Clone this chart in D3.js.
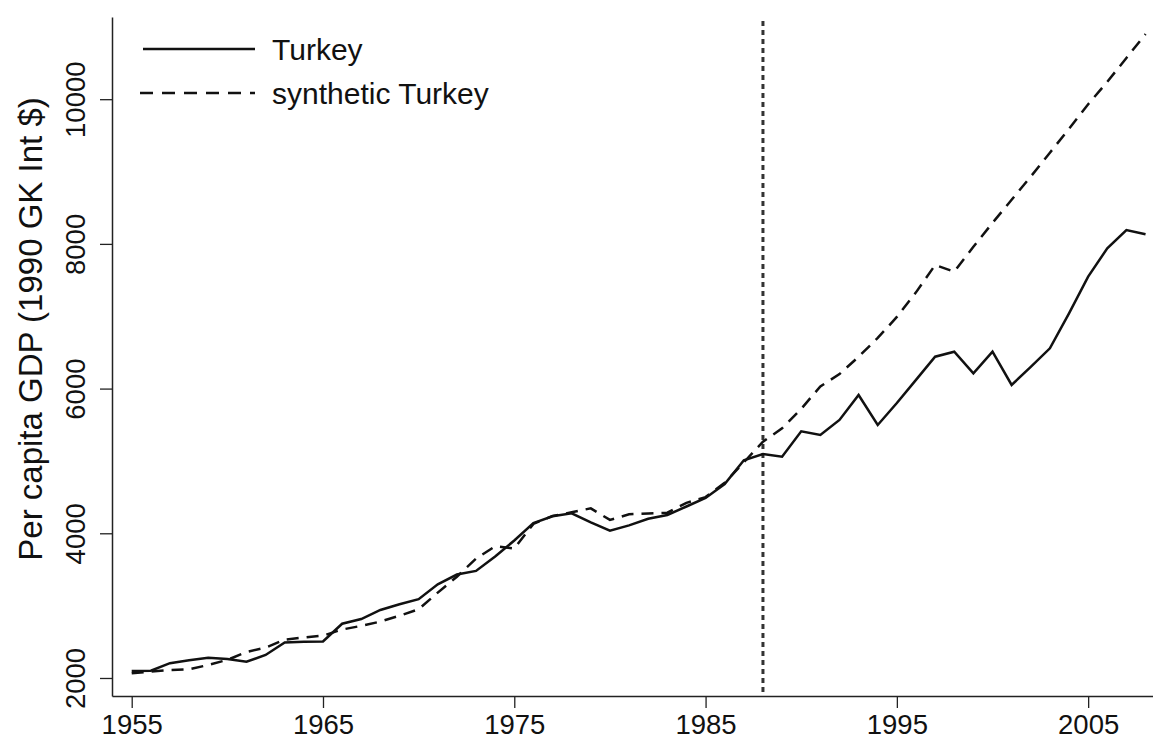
<!DOCTYPE html>
<html><head><meta charset="utf-8">
<script src="https://cdn.jsdelivr.net/npm/d3@7"></script>
<style>body{margin:0;background:#fff}svg{display:block}</style>
</head><body>
<svg id="c" width="1153" height="740"></svg>
<script>
const years = d3.range(1955, 2009);
const turkey = [2095,2100,2205,2245,2280,2262,2225,2318,2490,2502,2505,2750,2815,2940,3020,3090,3295,3430,3480,3680,3900,4140,4235,4276,4150,4035,4110,4200,4253,4370,4488,4680,5010,5096,5059,5410,5359,5566,5912,5497,5800,6120,6441,6510,6211,6510,6050,6300,6557,7040,7547,7939,8192,8133];
const synthetic = [2065,2090,2110,2120,2180,2250,2360,2420,2530,2560,2585,2670,2720,2780,2860,2950,3180,3400,3650,3820,3790,4130,4240,4290,4345,4185,4262,4275,4285,4420,4500,4700,4980,5266,5450,5720,6030,6200,6440,6700,6990,7330,7708,7616,7960,8290,8610,8930,9260,9590,9930,10240,10570,10900];
const xTicks = [1955,1965,1975,1985,1995,2005];
const yTicks = [2000,4000,6000,8000,10000];
const treatYear = 1988;
const seriesNames = ["Turkey","synthetic Turkey"];

const svg = d3.select("#c");
const font = "'Liberation Sans', Arial, Helvetica, sans-serif";
const x = d3.scaleLinear().domain([1953.97, 2008.39]).range([112, 1153]);
const y = d3.scaleLinear().domain([1751, 11136]).range([696, 17]);

// axes
const gx = svg.append("g").attr("transform","translate(0,696)")
  .call(d3.axisBottom(x).tickValues(xTicks).tickFormat(d3.format("d")).tickSize(12).tickPadding(6).tickSizeOuter(0));
const gy = svg.append("g").attr("transform","translate(112,0)")
  .call(d3.axisLeft(y).tickValues(yTicks).tickFormat(d3.format("d")).tickSize(12).tickSizeOuter(0));
[gx,gy].forEach(g=>{
  g.select(".domain").attr("stroke","#222").attr("stroke-width",1.5);
  g.selectAll(".tick line").attr("stroke","#222").attr("stroke-width",1.3);
  g.selectAll("text").attr("font-family",font).attr("font-size",27.5).attr("fill","#111");
});
gx.selectAll("text").attr("dy","0.72em");
gy.selectAll("text").attr("x",-27).attr("y",0).attr("dy",0)
  .attr("transform","rotate(-90,-27,0)").attr("text-anchor","middle");

// y title
svg.append("text").attr("transform","translate(42,329) rotate(-90)")
  .attr("text-anchor","middle").attr("font-family",font).attr("font-size",33).attr("fill","#111")
  .text("Per capita GDP (1990 GK Int $)");

// treatment line
svg.append("line").attr("x1",x(treatYear)).attr("x2",x(treatYear)).attr("y1",21).attr("y2",696)
  .attr("stroke","#333").attr("stroke-width",3).attr("stroke-dasharray","5,4");

const line = d3.line().x((d,i)=>x(years[i])).y(d=>y(d));
svg.append("path").datum(synthetic).attr("d",line).attr("fill","none")
  .attr("stroke","#111").attr("stroke-width",2.5).attr("stroke-dasharray","12,8");
svg.append("path").datum(turkey).attr("d",line).attr("fill","none")
  .attr("stroke","#111").attr("stroke-width",2.5);

// legend
const lg = svg.append("g");
[[49,null],[93,"13,9"]].forEach((s,i)=>{
  lg.append("line").attr("x1",i?140:143).attr("x2",255).attr("y1",s[0]).attr("y2",s[0])
    .attr("stroke","#111").attr("stroke-width",2.5).attr("stroke-dasharray",s[1]);
  lg.append("text").attr("x",272).attr("y",s[0]+11).attr("font-family",font).attr("font-size",30)
    .attr("fill","#111").text(seriesNames[i]);
});
</script>
</body></html>
